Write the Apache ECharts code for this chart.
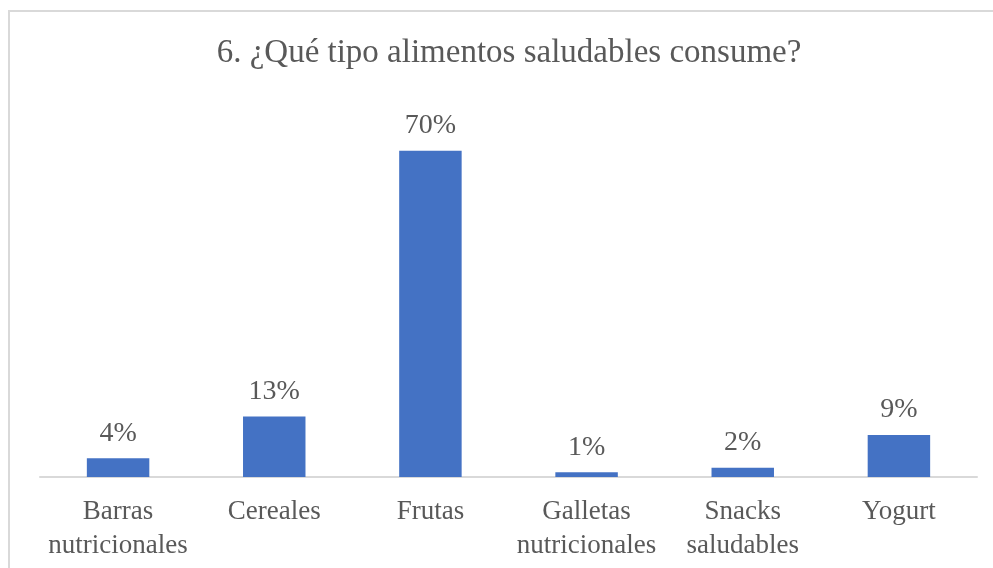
<!DOCTYPE html>
<html>
<head>
<meta charset="utf-8">
<script src="https://cdn.jsdelivr.net/npm/echarts@6/dist/echarts.min.js"></script>
<style>
  html, body { margin: 0; padding: 0; background: #ffffff; }
  #chart { width: 993px; height: 568px; }
</style>
</head>
<body>
<div id="chart"></div>
<script>
// Tipos de alimentos saludables y porcentaje de respuestas
const categories = ['Barras nutricionales', 'Cereales', 'Frutas', 'Galletas nutricionales', 'Snacks saludables', 'Yogurt'];
const percentages = [4, 13, 70, 1, 2, 9];
const chartTitle = '6. ¿Qué tipo alimentos saludables consume?';

const serif = "'Liberation Serif', 'Times New Roman', serif";
const textColor = '#595959';

const chart = echarts.init(document.getElementById('chart'), null, { renderer: 'canvas' });

chart.setOption({
  backgroundColor: '#ffffff',
  animation: false,
  title: {
    text: chartTitle,
    left: 509,
    top: 37,
    textAlign: 'center',
    padding: 0,
    textStyle: {
      fontFamily: serif,
      fontSize: 33,
      fontWeight: 'normal',
      color: textColor
    }
  },
  graphic: [{
    type: 'rect',
    silent: true,
    shape: { x: 9, y: 11, width: 1100, height: 700 },
    style: { fill: 'none', stroke: '#d9d9d9', lineWidth: 2 }
  }],
  grid: { left: 40, right: 16, top: 104, bottom: 91 },
  xAxis: {
    type: 'category',
    data: categories,
    axisTick: { show: false },
    axisLine: { lineStyle: { color: '#d9d9d9', width: 2 } },
    axisLabel: {
      interval: 0,
      margin: 18,
      fontFamily: serif,
      fontSize: 27,
      lineHeight: 34,
      color: textColor,
      formatter: function (v) { return v.replace(' ', '\n'); }
    }
  },
  yAxis: {
    type: 'value',
    min: 0,
    max: 80,
    show: false,
    splitLine: { show: false }
  },
  series: [{
    type: 'bar',
    data: percentages,
    barWidth: '40%',
    itemStyle: { color: '#4472C4' },
    label: {
      show: true,
      position: 'top',
      distance: 11,
      fontFamily: serif,
      fontSize: 28,
      color: textColor,
      formatter: function (p) { return p.value + '%'; }
    }
  }]
});
</script>
</body>
</html>
